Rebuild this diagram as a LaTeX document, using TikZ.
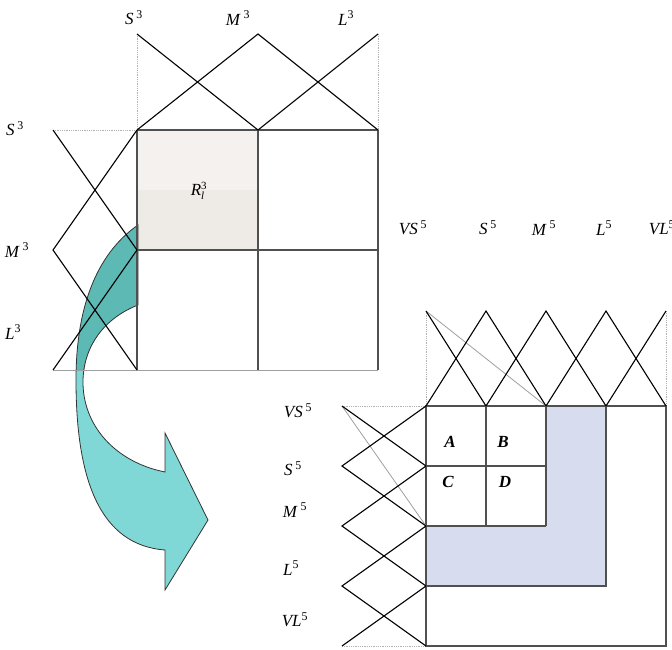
\documentclass[tikz,border=0pt]{standalone}
\usepackage{fontspec}
\setmainfont{Liberation Serif}
\usetikzlibrary{calc}
\definecolor{tealdark}{HTML}{5DB9B4}
\definecolor{teallight}{HTML}{80D8D6}
\definecolor{cellgray}{HTML}{EEEAE6}
\definecolor{cellgraylt}{HTML}{F4F1EF}
\definecolor{cellblue}{HTML}{D7DCEE}
\definecolor{gridgray}{HTML}{505050}
\newcommand{\setlab}[2]{\textit{#1}\,\textsuperscript{#2}}
\newcommand{\smallidx}[1]{\mbox{\fontsize{11}{11}\selectfont #1}}
\tikzset{
  mf/.style={draw=black, line width=1.1pt},
  gridline/.style={draw=gridgray, line width=1.2pt},
  guide/.style={draw=gray!60, densely dotted, line width=0.8pt},
  thinline/.style={draw=gray!75, line width=0.8pt},
  lbl/.style={font=\fontsize{17}{19}\selectfont, inner sep=0pt},
  cell/.style={font=\fontsize{17}{19}\selectfont\bfseries\itshape, inner sep=0pt}
}
\begin{document}
\begin{tikzpicture}[x=1pt, y=-1pt]
  \useasboundingbox (0,0) rectangle (672,649);
  % shaded cells
  \fill[cellgray] (137,130) rectangle (258,250);
  \fill[cellgraylt] (137,130) rectangle (258,190);
  \fill[cellblue] (546,406) -- (606,406) -- (606,586) -- (426,586) -- (426,526) -- (546,526) -- cycle;
  % curved arrow
  \def\arrowpath{(138,225) .. controls (95,255) and (76,310) .. (76,380)
    .. controls (76,480) and (100,545) .. (165,550) -- (165,590) -- (208,520)
    -- (165,433) -- (165,472) .. controls (115,462) and (82,425) .. (83,380)
    .. controls (84,345) and (105,318) .. (138,305) -- cycle}
  \fill[teallight] \arrowpath;
  \begin{scope}
    \clip (0,0) rectangle (137,370);
    \fill[tealdark] \arrowpath;
  \end{scope}
  \draw[black!80, line width=0.8pt] \arrowpath;
  % small panel: grid
  \draw[guide] (53,130) -- (137,130);
  \draw[guide] (137,34) -- (137,130);
  \draw[guide] (378,34) -- (378,130);
  \draw[thinline] (53,370) -- (378,370);
  \draw[gridline] (137,130) -- (378,130);
  \draw[gridline] (137,250) -- (378,250);
  \foreach \x in {137,258,378} \draw[gridline] (\x,130) -- (\x,370);
  % small panel: memberships on top
  \draw[mf] (137,34) -- (258,130);
  \draw[mf] (137,130) -- (258,34) -- (378,130);
  \draw[mf] (258,130) -- (378,34);
  % small panel: memberships on the left
  \draw[mf] (53,130) -- (137,250);
  \draw[mf] (137,130) -- (53,250) -- (137,370);
  \draw[mf] (137,250) -- (53,370);
  % large panel: grid
  \draw[guide] (342,406) -- (426,406);
  \draw[guide] (342,646) -- (426,646);
  \draw[guide] (426,311) -- (426,406);
  \draw[guide] (666,311) -- (666,406);
  \draw[gridline] (426,406) rectangle (666,646);
  \draw[gridline] (486,406) -- (486,526);
  \draw[gridline] (546,406) -- (546,526);
  \draw[gridline] (426,466) -- (546,466);
  \draw[gridline] (426,526) -- (546,526);
  \draw[gridline] (606,406) -- (606,586) -- (426,586);
  \draw[thinline] (426,311) -- (546,406);
  \draw[thinline] (342,406) -- (426,526);
  % large panel: memberships on top
  \draw[mf] (426,311) -- (486,406);
  \foreach \p in {486,546,606}
    \draw[mf] (\p-60,406) -- (\p,311) -- (\p+60,406);
  \draw[mf] (606,406) -- (666,311);
  % large panel: memberships on the left
  \draw[mf] (342,406) -- (426,466);
  \foreach \p in {466,526,586}
    \draw[mf] (426,\p-60) -- (342,\p) -- (426,\p+60);
  \draw[mf] (426,586) -- (342,646);
  % labels
  \node[lbl] (s3top) at (134,18) {\setlab{S}{3}};
  \node[lbl] (m3top) at (238,18) {\setlab{M}{3}};
  \node[lbl] (l3top) at (346,18) {\textit{L}\textsuperscript{3}};
  \node[lbl] (s3left) at (15,129) {\setlab{S}{3}};
  \node[lbl] (m3left) at (17,250) {\setlab{M}{3}};
  \node[lbl] (l3left) at (13,332) {\textit{L}\textsuperscript{3}};
  \node[lbl] (r13) at (199,191) {\textit{R}$^{\smallidx{3}}_{\smallidx{\itshape l}}$};
  \node[lbl] (vs5top) at (413,228) {\textit{VS}\,\textsuperscript{5}};
  \node[lbl] (s5top) at (488,228) {\setlab{S}{5}};
  \node[lbl] (m5top) at (544,228) {\setlab{M}{5}};
  \node[lbl] (l5top) at (604,228) {\textit{L}\textsuperscript{5}};
  \node[lbl] (vl5top) at (662,228) {\textit{VL}\textsuperscript{5}};
  \node[lbl] (vs5left) at (298,411) {\textit{VS}\,\textsuperscript{5}};
  \node[lbl] (s5left) at (293,469) {\setlab{S}{5}};
  \node[lbl] (m5left) at (295,510) {\setlab{M}{5}};
  \node[lbl] (l5left) at (291,568) {\textit{L}\textsuperscript{5}};
  \node[lbl] (vl5left) at (295,620) {\textit{VL}\textsuperscript{5}};
  \node[cell] (ca) at (450,442) {A};
  \node[cell] (cb) at (503,442) {B};
  \node[cell] (cc) at (448,482) {C};
  \node[cell] (cd) at (505,482) {D};
\end{tikzpicture}
\end{document}
